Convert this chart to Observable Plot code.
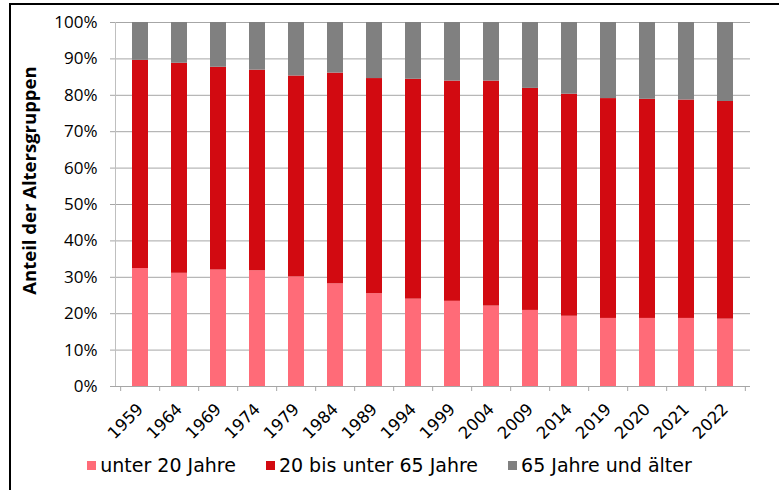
<!DOCTYPE html>
<html>
<head>
<meta charset="utf-8">
<script src="https://cdn.jsdelivr.net/npm/d3@7"></script>
<script src="https://cdn.jsdelivr.net/npm/@observablehq/plot@0.6"></script>
<style>
  html, body { margin: 0; padding: 0; background: #fff; }
  #wrap { position: relative; width: 779px; height: 490px; overflow: hidden; }
  #bl { position: absolute; left: 9px; top: 3px; width: 2px; height: 490px; background: #000; }
  #bt { position: absolute; left: 9px; top: 3px; width: 780px; height: 2px; background: #000; }
  #chart { position: absolute; left: 0; top: 0; }
  #legend { position: absolute; left: 0; top: 454px; width: 779px; display: flex; justify-content: center;
            font-family: "DejaVu Sans", sans-serif; font-size: 19px; color: #000; }
  .item { display: flex; align-items: center; margin: 0 15px; }
  .sw { width: 9px; height: 9px; margin-right: 4px; }
</style>
</head>
<body>
<div id="wrap">
  <div id="chart"></div>
  <div id="bl"></div>
  <div id="bt"></div>
  <div id="legend"></div>
</div>
<script>
const years = ["1959","1964","1969","1974","1979","1984","1989","1994","1999","2004","2009","2014","2019","2020","2021","2022"];
const under20   = [32.4,31.1,32.0,31.8,30.1,28.2,25.5,24.0,23.4,22.1,20.9,19.3,18.7,18.7,18.7,18.5];
const age20to64 = [57.2,57.7,55.7,55.1,55.2,57.9,59.1,60.4,60.5,61.8,61.0,61.0,60.4,60.2,60.0,59.8];
const age65plus = [10.4,11.2,12.3,13.1,14.7,13.9,15.4,15.6,16.1,16.1,18.1,19.7,20.9,21.1,21.3,21.7];
const seriesNames = ["unter 20 Jahre", "20 bis unter 65 Jahre", "65 Jahre und älter"];
const seriesColors = ["#ff6b78", "#d20a11", "#808080"];
const yTicks = [0,10,20,30,40,50,60,70,80,90,100];
const yTitle = "Anteil der Altersgruppen";

const seriesValues = [under20, age20to64, age65plus];
const data = [];
seriesNames.forEach((s, si) => years.forEach((y, i) => data.push({year: y, group: s, value: seriesValues[si][i]})));

const W = 779, H = 452, mL = 115, mR = 29, mT = 22, mB = 66;
const step = (W - mL - mR) / years.length;
const fontTick = "'Open Sans', sans-serif";
const fontX = "'DejaVu Sans', sans-serif";

const chart = Plot.plot({
  width: W, height: H,
  marginLeft: mL, marginRight: mR, marginTop: mT, marginBottom: mB,
  x: {domain: years, paddingInner: 0.6, paddingOuter: 0.3, label: null},
  y: {domain: [0, 100], label: null},
  color: {domain: seriesNames, range: seriesColors},
  style: {background: "transparent", color: "#000", overflow: "visible"},
  marks: [
    Plot.ruleY(yTicks, {stroke: "#a6a6a6", strokeWidth: 1, insetLeft: -5}),
    Plot.barY(data, {x: "year", y: "value", fill: "group", order: seriesNames}),
    Plot.frame({anchor: "left", stroke: "#bfbfbf"}),
    Plot.ruleY([0], {stroke: "#a6a6a6"}),
    Plot.axisY({ticks: yTicks, tickSize: 0, tickPadding: 18, tickFormat: d => d + "%",
      fontSize: 17, fontFamily: fontTick, label: null}),
    Plot.axisX({tickSize: 5, text: null, dx: -step / 2, stroke: "#a6a6a6", label: null}),
    Plot.axisX({ticks: [years[years.length - 1]], tickSize: 5, text: null, dx: step / 2, stroke: "#a6a6a6", label: null}),
    Plot.axisX({tickSize: 0, tickPadding: 20, tickRotate: -45, fontSize: 16.5, fontFamily: fontX, label: null}),
    Plot.text([yTitle], {frameAnchor: "left", textAnchor: "middle", rotate: -90, dx: -85, dy: -24, fontSize: 18.5,
      fontWeight: "bold", fontFamily: fontTick, fill: "#000"})
  ]
});
document.getElementById("chart").appendChild(chart);

const legend = document.getElementById("legend");
seriesNames.forEach((s, i) => {
  const it = document.createElement("div");
  it.className = "item";
  const sw = document.createElement("span");
  sw.className = "sw";
  sw.style.background = seriesColors[i];
  const t = document.createElement("span");
  t.textContent = s;
  it.appendChild(sw); it.appendChild(t);
  legend.appendChild(it);
});
</script>
</body>
</html>
